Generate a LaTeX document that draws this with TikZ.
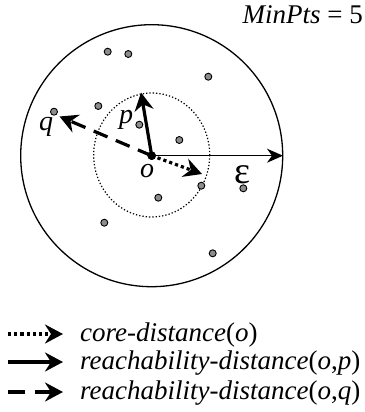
\documentclass[tikz,border=0pt]{standalone}
\usepackage{fontspec}
\setmainfont{Liberation Serif}
\newfontfamily\tms{Liberation Serif}
\usetikzlibrary{arrows.meta}
\definecolor{dotgray}{RGB}{140,140,140}
\begin{document}
\begin{tikzpicture}[x=1pt,y=-1pt,
  pt/.style={circle,draw=black,fill=dotgray,line width=0.9pt,inner sep=0pt,minimum size=7pt},
  centre/.style={circle,fill=black,inner sep=0pt,minimum size=8.5pt},
  bighead/.style={-{Stealth[length=18pt,width=19pt,inset=6pt]}},
  solidarr/.style={bighead,line width=3.2pt},
  dottedarr/.style={bighead,line width=3.2pt,dash pattern=on 3.2pt off 3pt},
  dashedarr/.style={bighead,line width=3.2pt,dash pattern=on 15pt off 9pt},
  epsarr/.style={-{Stealth[length=16pt,width=14pt,inset=5pt]},line width=1.4pt},
  lbl/.style={inner sep=0pt,font=\tms\fontsize{28}{30}\selectfont\itshape},
  legtext/.style={inner sep=0pt,anchor=base west,font=\tms\fontsize{27}{29}\selectfont}
]
\useasboundingbox (0,0) rectangle (364,412);
% circles
\draw[line width=1.3pt] (151.7,155.7) circle (131);
\draw[line width=1.2pt,dash pattern=on 1.3pt off 2pt] (151.7,155) ellipse (58 and 62);
% points
\node[pt] (a1) at (107.7,51.7) {};
\node[pt] (a2) at (128.3,54) {};
\node[pt] (a3) at (208.3,76.7) {};
\node[pt] (a4) at (98.3,106) {};
\node[pt] (q) at (54,111.7) {};
\node[pt] (p) at (139.3,124.7) {};
\node[pt] (a5) at (179.3,140) {};
\node[pt] (a6) at (201.3,185.7) {};
\node[pt] (a7) at (243.3,188.3) {};
\node[pt] (a8) at (158.3,197.7) {};
\node[pt] (a9) at (104.3,222.7) {};
\node[pt] (a10) at (212.7,253.3) {};
% arrows
\coordinate (ptip) at (141,92.5);
\coordinate (qtip) at (59.5,116.5);
\coordinate (ctip) at (202,174);
\coordinate (etip) at (283,155.7);
\node[centre] (o) at (151.7,155.7) {};
\draw[epsarr] (o.center) -- (etip);
\draw[dashedarr] (o.center) -- (qtip);
\draw[dottedarr] (o.center) -- (ctip);
\draw[solidarr] (o.center) -- (ptip);
\fill (o) circle (4.2pt);
% labels
\node[lbl,anchor=base] (ql) at (46,130) {q};
\node[lbl,anchor=base] (pl) at (126,123) {p};
\node[lbl,anchor=base] (ol) at (147,177) {o};
\node[inner sep=0pt,anchor=base,font=\tms\fontsize{38}{40}\selectfont] (el) at (242.5,183) {ε};
\node[inner sep=0pt,anchor=base east,font=\tms\fontsize{27}{29}\selectfont] (mp) at (363,24) {\itshape MinPts\/\upshape{} = 5};
% legend
\coordinate (l1s) at (8,334); \coordinate (l1e) at (63,334);
\coordinate (l2s) at (8,362); \coordinate (l2e) at (63,362);
\coordinate (l3s) at (8,392); \coordinate (l3e) at (63,392);
\draw[dottedarr] (l1s) -- (l1e);
\draw[solidarr] (l2s) -- (l2e);
\draw[dashedarr,dash pattern=on 17pt off 10pt] (l3s) -- (l3e);
\node[legtext] (t1) at (80,341) {\itshape core-distance\/\upshape(\itshape o\/\upshape)};
\node[legtext] (t2) at (80,369) {\itshape reachability-distance\/\upshape(\itshape o\/\upshape,\itshape p\/\upshape)};
\node[legtext] (t3) at (80,399) {\itshape reachability-distance\/\upshape(\itshape o\/\upshape,\itshape q\/\upshape)};
\end{tikzpicture}
\end{document}
